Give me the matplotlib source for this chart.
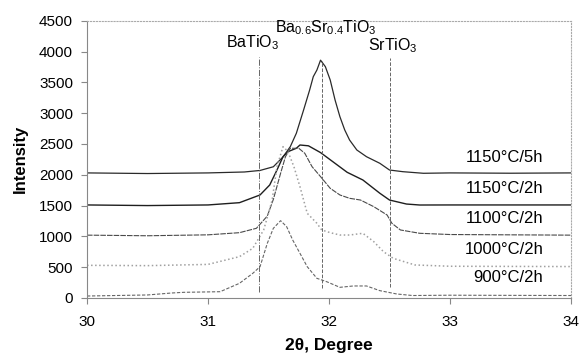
import matplotlib
matplotlib.use('Agg')
import matplotlib.pyplot as plt

plt.rcParams['font.family'] = ['Liberation Sans', 'DejaVu Sans']
plt.rcParams['mathtext.fontset'] = 'custom'
plt.rcParams['mathtext.rm'] = 'Liberation Sans'
plt.rcParams['mathtext.it'] = 'Liberation Sans:italic'
plt.rcParams['mathtext.bf'] = 'Liberation Sans:bold'

# XRD scans (2theta in degrees, intensity)
x_1150_5h = [30.0, 30.5, 31.0, 31.3, 31.43, 31.54, 31.62, 31.68, 31.73, 31.79, 31.84, 31.87,
             31.90, 31.93, 31.97, 32.01, 32.05, 32.09, 32.13, 32.17, 32.23, 32.31, 32.42,
             32.50, 32.61, 32.78, 33.0, 33.5, 34.0]
y_1150_5h = [2030, 2020, 2030, 2045, 2070, 2130, 2290, 2456, 2673, 3051, 3376, 3592,
             3700, 3860, 3754, 3538, 3214, 2943, 2727, 2564, 2402, 2293, 2186,
             2077, 2050, 2024, 2030, 2025, 2030]

x_1150_2h = [30.0, 30.5, 31.0, 31.26, 31.43, 31.51, 31.57, 31.62, 31.66, 31.73, 31.76, 31.83,
             31.93, 32.04, 32.15, 32.28, 32.42, 32.50, 32.64, 32.75, 33.0, 34.0]
y_1150_2h = [1510, 1500, 1510, 1547, 1672, 1834, 2077, 2293, 2374, 2430, 2483, 2470,
             2360, 2200, 2040, 1915, 1700, 1590, 1525, 1509, 1510, 1510]

x_1100_2h = [30.0, 30.5, 31.0, 31.26, 31.40, 31.49, 31.54, 31.60, 31.64, 31.68, 31.75, 31.80,
             31.86, 31.93, 32.01, 32.09, 32.17, 32.26, 32.37, 32.48, 32.52, 32.59, 32.75,
             33.0, 34.0]
y_1100_2h = [1020, 1010, 1025, 1060, 1131, 1330, 1600, 2024, 2293, 2430, 2430, 2348,
             2131, 1970, 1780, 1672, 1618, 1590, 1482, 1347, 1212, 1104, 1050,
             1030, 1020]

x_1000_2h = [30.0, 30.5, 31.0, 31.26, 31.37, 31.46, 31.50, 31.53, 31.57, 31.62, 31.66, 31.71,
             31.76, 31.79, 31.82, 31.90, 31.94, 32.01, 32.09, 32.17, 32.28, 32.37, 32.45,
             32.53, 32.71, 33.0, 34.0]
y_1000_2h = [530, 525, 545, 671, 806, 1104, 1375, 1590, 2131, 2456, 2380, 2131,
             1807, 1590, 1375, 1212, 1104, 1060, 1022, 1022, 1050, 914, 752,
             644, 536, 515, 510]

x_900_2h = [30.0, 30.5, 30.7, 30.8, 31.1, 31.26, 31.37, 31.43, 31.49, 31.54, 31.60, 31.65,
            31.70, 31.76, 31.82, 31.90, 31.98, 32.09, 32.20, 32.31, 32.42, 32.56, 32.69,
            33.0, 34.0]
y_900_2h = [32, 49, 81, 92, 102, 238, 400, 508, 887, 1131, 1255, 1157,
            941, 725, 508, 319, 265, 173, 195, 195, 119, 65, 40,
            45, 40]

curve_names = ['1150°C/5h', '1150°C/2h', '1100°C/2h', '1000°C/2h', '900°C/2h']
label_y = [2280, 1770, 1285, 795, 335]

# reference peak positions
ref_names = [r'BaTiO$_3$', r'Ba$_{0.6}$Sr$_{0.4}$TiO$_3$', r'SrTiO$_3$']
ref_x = [31.42, 31.94, 32.50]
ref_lo = [100, 170, 180]
ref_hi = [3910, 3840, 3895]
ref_text_x = [31.37, 31.97, 32.53]
ref_text_y = [4070, 4310, 4025]

fig = plt.figure(figsize=(5.8, 3.55), dpi=100)
ax = fig.add_axes([0.15, 0.1606, 0.8345, 0.781])

xs = [x_1150_5h, x_1150_2h, x_1100_2h, x_1000_2h, x_900_2h]
ys = [y_1150_5h, y_1150_2h, y_1100_2h, y_1000_2h, y_900_2h]
colors = ['#2a2a2a', '#1e1e1e', '#4a4a4a', '#a0a0a0', '#666666']
styles = ['-', '-', (0, (5, 1)), ':', (0, (3, 1.5))]
widths = [0.9, 1.0, 0.8, 1.1, 0.8]
for x, y, c, ls, lw in zip(xs, ys, colors, styles, widths):
    ax.plot(x, y, color=c, linestyle=ls, linewidth=lw)

ref_styles = ['-.', '--', '--']
for rx, lo, hi, ls in zip(ref_x, ref_lo, ref_hi, ref_styles):
    ax.plot([rx, rx], [lo, hi], color='#666666', linestyle=ls, linewidth=0.7)

for name, tx, ty in zip(ref_names, ref_text_x, ref_text_y):
    ax.text(tx, ty, name, ha='center', va='baseline', fontsize=11.5)

for name, ly in zip(curve_names, label_y):
    ax.text(33.77, ly, name, ha='right', va='center', fontsize=12)

ax.set_xlim(30, 34)
ax.set_ylim(0, 4500)
ax.set_xticks([30, 31, 32, 33, 34])
ax.set_yticks(range(0, 4501, 500))

ax.spines['top'].set_color('#aaaaaa')
ax.spines['top'].set_linestyle(':')
ax.spines['right'].set_color('#aaaaaa')
ax.spines['right'].set_linestyle(':')
ax.spines['left'].set_color('#888888')
ax.spines['bottom'].set_color('#888888')

ax.tick_params(axis='y', direction='out', length=4, color='#888888', pad=6, labelsize=11)
ax.tick_params(axis='x', direction='out', length=4, color='#888888', pad=8, labelsize=11)

ax.set_ylabel('Intensity', fontsize=12, fontweight='bold', labelpad=8)
ax.set_xlabel('2θ, Degree', fontsize=12.5, fontweight='bold', labelpad=7)

fig.savefig('out.png', dpi=100)
